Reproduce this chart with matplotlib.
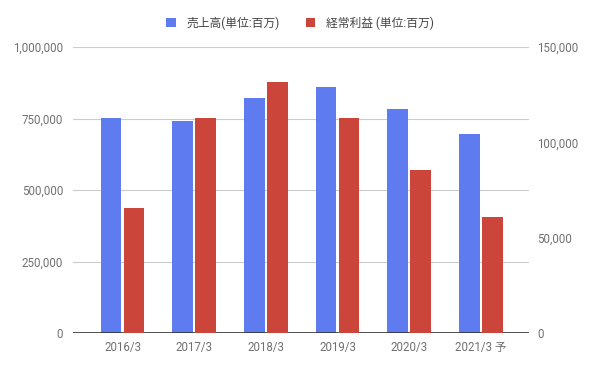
import matplotlib
matplotlib.use("Agg")
import matplotlib.pyplot as plt
import numpy as np
from matplotlib.ticker import FuncFormatter

plt.rcParams['font.family'] = ['Roboto', 'Noto Sans CJK JP', 'DejaVu Sans']

# datos
anios = ["2016/3", "2017/3", "2018/3", "2019/3", "2020/3", "2021/3 予"]
ventas = [752000, 741000, 822000, 859000, 782000, 695000]
beneficio = [65600, 112800, 131600, 112800, 85500, 60800]

azul = "#5F7BF0"
rojo = "#CC453A"
gris = "#707070"

fig = plt.figure(figsize=(5.94, 3.68), dpi=100)
ax = fig.add_axes([73 / 594, 1 - 333 / 368, 456 / 594, 286 / 368])
ax2 = ax.twinx()

x = np.arange(len(anios))
ancho = 0.29
b1 = ax.bar(x - 0.16, ventas, ancho, color=azul, label="売上高(単位:百万)", zorder=3)
b2 = ax2.bar(x + 0.16, beneficio, ancho, color=rojo, label="経常利益 (単位:百万)", zorder=3)

ax.set_xlim(-0.69, 5.67)
ax.set_ylim(0, 1000000)
ax2.set_ylim(0, 150000)
ax.set_yticks([0, 250000, 500000, 750000, 1000000])
ax2.set_yticks([0, 50000, 100000, 150000])

fmt = FuncFormatter(lambda v, p: f"{int(v):,}")
ax.yaxis.set_major_formatter(fmt)
ax2.yaxis.set_major_formatter(fmt)

ax.set_xticks(x)
ax.set_xticklabels(anios)

ax.grid(axis='y', color="#CCCCCC", linewidth=0.8, zorder=0)
ax.set_axisbelow(True)

for a in (ax, ax2):
    for s in a.spines.values():
        s.set_visible(False)
    a.tick_params(length=0, labelsize=8.3, colors=gris)
ax.tick_params(axis='y', pad=7)
ax2.tick_params(axis='y', pad=6)
ax.tick_params(axis='x', pad=6)
ax.axhline(0, color="#333333", linewidth=1.2, zorder=4)

fig.legend(handles=[b1, b2], loc="upper center", bbox_to_anchor=(0.505, 0.985), ncol=2,
           frameon=False, fontsize=8.5, handlelength=0.8, handleheight=0.8,
           columnspacing=2.2, handletextpad=0.9, labelcolor="#444444")

fig.savefig("out.png", dpi=100)
